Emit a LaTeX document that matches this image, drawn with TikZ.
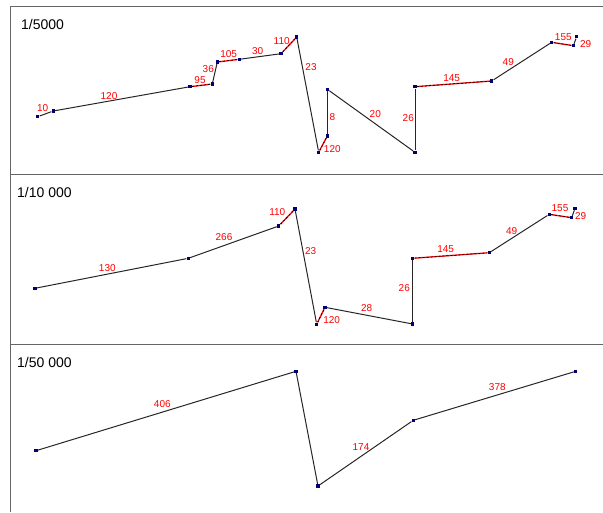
\documentclass[tikz,border=0pt]{standalone}
\usepackage{fontspec}
\setmainfont{Liberation Sans}
\tikzset{
  pt/.style={rectangle, fill=blue!45!black, minimum size=3.4pt, inner sep=0pt},
  seg/.style={black!85, line width=1pt},
  hl/.style={red, line width=1.3pt, postaction={draw=black, line width=0.7pt, dash pattern=on 2pt off 2pt}},
  lbl/.style={text=red, font=\fontsize{10}{11}\selectfont, inner sep=0pt},
  scl/.style={anchor=west, font=\fontsize{14}{16}\selectfont, inner sep=0pt},
  frame/.style={black!60, line width=0.8pt}
}
\begin{document}
\begin{tikzpicture}[x=1pt,y=-1pt]
	\useasboundingbox (0,0) rectangle (603,512);
	%cadres
	\draw[frame] (603,6) -- (10.5,6) -- (10.5,512);
	\draw[frame] (10.5,174.5) -- (603,174.5);
	\draw[frame] (10.5,344) -- (603,344);
	%echelles
	\node[scl] (s1) at (21,24) {1/5000};
	\node[scl] (s2) at (17,192.5) {1/10 000};
	\node[scl] (s3) at (17,362.5) {1/50 000};
	%1/5000
	\node[pt] (a1) at (37.7,116.7) {};
	\node[pt] (a2) at (53.3,111) {};
	\node[pt] (a3) at (190,86.7) {};
	\node[pt] (a4) at (212.3,84) {};
	\node[pt] (a5) at (217.3,62) {};
	\node[pt] (a6) at (239.3,59.3) {};
	\node[pt] (a7) at (281,53.7) {};
	\node[pt] (a8) at (296.7,37) {};
	\node[pt] (a9) at (318.7,152.3) {};
	\node[pt] (a10) at (327.3,136) {};
	\node[pt] (a11) at (327.3,89.3) {};
	\node[pt] (a12) at (415,152.3) {};
	\node[pt] (a13) at (415,86.7) {};
	\node[pt] (a14) at (491.7,81) {};
	\node[pt] (a15) at (551.7,42.3) {};
	\node[pt] (a16) at (573.3,45.7) {};
	\node[pt] (a17) at (576.7,36.7) {};
	\draw[seg] (a1) -- (a2);
	\draw[seg] (a2) -- (a3);
	\draw[hl] (a3) -- (a4);
	\draw[seg] (a4) -- (a5);
	\draw[hl] (a5) -- (a6);
	\draw[seg] (a6) -- (a7);
	\draw[hl] (a7) -- (a8);
	\draw[seg] (a8) -- (a9);
	\draw[hl] (a9) -- (a10);
	\draw[seg] (a10) -- (a11);
	\draw[seg] (a11) -- (a12);
	\draw[seg] (a12) -- (a13);
	\draw[hl] (a13) -- (a14);
	\draw[seg] (a14) -- (a15);
	\draw[hl] (a15) -- (a16);
	\draw[seg] (a16) -- (a17);
	\node[lbl] (la1) at (42.7,107.7) {10};
	\node[lbl] (la2) at (109,96) {120};
	\node[lbl] (la3) at (200,80) {95};
	\node[lbl] (la4) at (208.3,69) {36};
	\node[lbl] (la5) at (228.7,54.3) {105};
	\node[lbl] (la6) at (257.7,50.7) {30};
	\node[lbl] (la7) at (281.7,41) {110};
	\node[lbl] (la8) at (311,67.3) {23};
	\node[lbl] (la9) at (332.3,149.3) {120};
	\node[lbl] (la10) at (332.3,116.7) {8};
	\node[lbl] (la11) at (375.3,114.3) {20};
	\node[lbl] (la12) at (408.3,118.3) {26};
	\node[lbl] (la13) at (451.7,78.3) {145};
	\node[lbl] (la14) at (508.3,62.3) {49};
	\node[lbl] (la15) at (563.3,36.7) {155};
	\node[lbl] (la16) at (585.7,43.7) {29};
	%1/10 000
	\node[pt] (b1) at (35,288.3) {};
	\node[pt] (b2) at (188.3,258.3) {};
	\node[pt] (b3) at (278.7,226) {};
	\node[pt] (b4) at (295,209) {};
	\node[pt] (b5) at (316.7,324.2) {};
	\node[pt] (b6) at (325,307.3) {};
	\node[pt] (b7) at (412.7,324) {};
	\node[pt] (b8) at (412.7,258.3) {};
	\node[pt] (b9) at (489.3,252.7) {};
	\node[pt] (b10) at (549.3,214.3) {};
	\node[pt] (b11) at (571.7,217.7) {};
	\node[pt] (b12) at (575,208.3) {};
	\draw[seg] (b1) -- (b2);
	\draw[seg] (b2) -- (b3);
	\draw[hl] (b3) -- (b4);
	\draw[seg] (b4) -- (b5);
	\draw[hl] (b5) -- (b6);
	\draw[seg] (b6) -- (b7);
	\draw[seg] (b7) -- (b8);
	\draw[hl] (b8) -- (b9);
	\draw[seg] (b9) -- (b10);
	\draw[hl] (b10) -- (b11);
	\draw[seg] (b11) -- (b12);
	\node[lbl] (lb1) at (107.3,267.7) {130};
	\node[lbl] (lb2) at (224,236.7) {266};
	\node[lbl] (lb3) at (277.3,212.3) {110};
	\node[lbl] (lb4) at (310.7,250.7) {23};
	\node[lbl] (lb5) at (331.7,320) {120};
	\node[lbl] (lb6) at (366.7,307.7) {28};
	\node[lbl] (lb7) at (404.3,288.3) {26};
	\node[lbl] (lb8) at (445.7,249) {145};
	\node[lbl] (lb9) at (511.7,230.7) {49};
	\node[lbl] (lb10) at (560,208.3) {155};
	\node[lbl] (lb11) at (580.7,215.7) {29};
	%1/50 000
	\node[pt] (c1) at (36,450.7) {};
	\node[pt] (c2) at (296,371.3) {};
	\node[pt] (c3) at (318,486) {};
	\node[pt] (c4) at (413.3,420.3) {};
	\node[pt] (c5) at (575.7,371.3) {};
	\draw[seg] (c1) -- (c2) -- (c3) -- (c4) -- (c5);
	\node[lbl] (lc1) at (162.3,404) {406};
	\node[lbl] (lc2) at (361,447.3) {174};
	\node[lbl] (lc3) at (497.3,387.3) {378};
\end{tikzpicture}
\end{document}
